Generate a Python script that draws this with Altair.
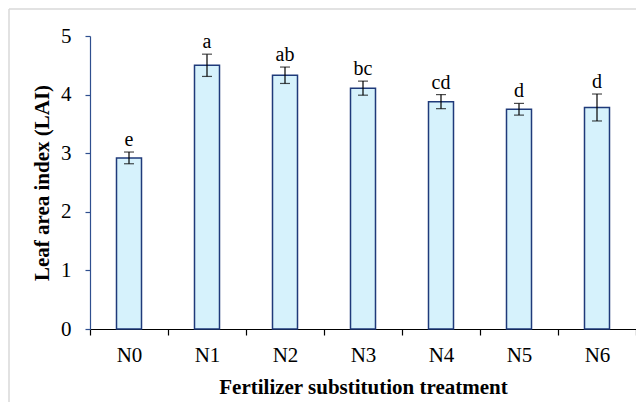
import altair as alt
import pandas as pd

treatments = ["N0", "N1", "N2", "N3", "N4", "N5", "N6"]
lai = [2.92, 4.50, 4.33, 4.11, 3.88, 3.75, 3.78]
err = [0.10, 0.19, 0.14, 0.12, 0.12, 0.10, 0.23]
letters = ["e", "a", "ab", "bc", "cd", "d", "d"]
y_ticks = [0, 1, 2, 3, 4, 5]

df = pd.DataFrame({"t": treatments, "lai": lai, "err": err, "letter": letters})
df["lo"] = df["lai"] - df["err"]
df["hi"] = df["lai"] + df["err"]

FONT = "Liberation Serif"

x_enc = alt.X(
    "t:N",
    sort=treatments,
    scale=alt.Scale(paddingInner=0, paddingOuter=0),
    axis=alt.Axis(
        title="Fertilizer substitution treatment",
        labelAngle=0,
        tickBand="extent",
        tickSize=6,
        tickColor="black",
        domainColor="black",
        labelPadding=9,
        titlePadding=11,
        labelFont=FONT,
        titleFont=FONT,
        labelFontSize=21,
        titleFontSize=21,
        titleFontWeight="bold",
        labelColor="black",
        titleColor="black",
    ),
)
y_enc = alt.Y(
    "lai:Q",
    scale=alt.Scale(domain=[0, 5]),
    axis=alt.Axis(
        values=y_ticks,
        format="d",
        grid=False,
        title="Leaf area index (LAI)",
        tickSize=5,
        tickColor="#2f4f8f",
        domainColor="#2f4f8f",
        labelPadding=14,
        titlePadding=8,
        labelFont=FONT,
        titleFont=FONT,
        labelFontSize=21,
        titleFontSize=21,
        titleFontWeight="bold",
        labelColor="black",
        titleColor="black",
    ),
)

base = alt.Chart(df)
xs = alt.X("t:N", sort=treatments)

bars = base.mark_bar(size=25, fill="#d6f2fc", stroke="#1f3a7a", strokeWidth=1.5).encode(
    x=x_enc, y=y_enc
)
rule = base.mark_rule(color="black", strokeWidth=1.2).encode(x=xs, y="lo:Q", y2="hi:Q")
cap_hi = base.mark_tick(orient="horizontal", size=10, thickness=1.2, color="black").encode(
    x=xs, y="hi:Q"
)
cap_lo = base.mark_tick(orient="horizontal", size=10, thickness=1.2, color="black").encode(
    x=xs, y="lo:Q"
)
text = base.mark_text(baseline="alphabetic", dy=-6, font=FONT, fontSize=20, color="black").encode(
    x=xs, y="hi:Q", text="letter:N"
)

frame_src = alt.Chart(pd.DataFrame({"a": [0]}))
frame_left = frame_src.mark_rule(color="#d9d9d9", strokeWidth=1.5).encode(
    x=alt.value(-81), y=alt.value(-27), y2=alt.value(400)
)
frame_top = frame_src.mark_rule(color="#d9d9d9", strokeWidth=1.5).encode(
    x=alt.value(-81), x2=alt.value(560), y=alt.value(-27)
)

chart = (
    alt.layer(frame_left, frame_top, bars, rule, cap_hi, cap_lo, text)
    .properties(
        width=546,
        height=293,
        padding={"left": 82, "top": 28, "right": 0, "bottom": 73},
        autosize="none",
    )
    .configure_view(stroke=None)
    .configure_axis(domainWidth=1.2, tickWidth=1.2)
)

chart.save("out.html", embed_options={"renderer": "svg", "actions": False})
